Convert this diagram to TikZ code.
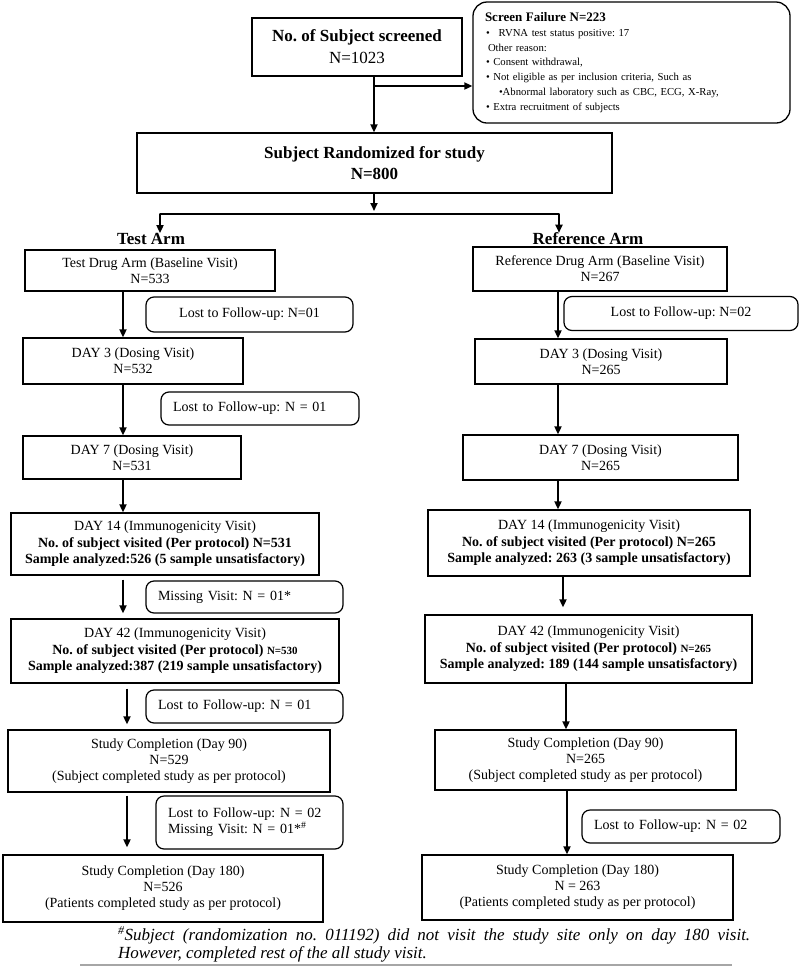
\documentclass[tikz,border=0pt]{standalone}
\usepackage{fontspec}
\setmainfont{Liberation Serif}
\usetikzlibrary{arrows.meta}
\frenchspacing
\newcommand\boxfont{\fontsize{14}{16}\selectfont}
\newcommand\headfont{\fontsize{17}{21}\selectfont\bfseries}
\newcommand\failfont{\fontsize{10.7}{14.8}\selectfont}
\tikzset{
  box/.style={draw, line width=1.3pt, inner sep=0pt, align=center, font=\boxfont},
  lost/.style={draw, line width=1.2pt, rounded corners=8pt, inner xsep=12pt, inner ysep=0pt, font=\boxfont},
  arr/.style={line width=1.8pt, -{Triangle[length=8pt,width=7pt]}},
  conn/.style={line width=1.8pt},
  head/.style={font=\headfont, inner sep=0pt},
}
\begin{document}
\begin{tikzpicture}[x=1pt,y=-1pt]
\fill[white] (0,0) rectangle (800,970);
\useasboundingbox (0,0) rectangle (800,970);

% top
\node[box, minimum width=210pt, minimum height=58pt, font=\fontsize{17}{22}\selectfont] (scr) at (357,47) {\textbf{No. of Subject screened}\\N=1023};
\node[draw, line width=1.3pt, rounded corners=14pt, minimum width=317pt, minimum height=121pt,
      inner xsep=12pt, inner ysep=0pt, text width=293pt, align=left, font=\failfont] (fail) at (631.5,62.5)
 {{\fontsize{13}{15}\selectfont\bfseries Screen Failure N=223}\\
  \hspace{1pt}\textbullet\hspace{9pt}RVNA test status positive: 17\\
  \hspace{3pt}Other reason:\\
  \hspace{1pt}\textbullet\ Consent withdrawal,\\
  \hspace{1pt}\textbullet\ Not eligible as per inclusion criteria, Such as\\
  \hspace{14pt}\textbullet Abnormal laboratory such as CBC, ECG, X-Ray,\\
  \hspace{1pt}\textbullet\ Extra recruitment of subjects};
\node[box, minimum width=475pt, minimum height=60pt, font=\fontsize{17}{21}\selectfont\bfseries] (rand) at (374.5,163) {Subject Randomized for study\\N=800};

\coordinate (br) at (374,86);
\draw[arr] (scr.south -| br) -- (rand.north -| br);
\draw[arr] (br) -- (fail.west |- br);

\node[head] (tlab) at (151,239) {Test Arm};
\node[head] (rlab) at (588,239) {Reference Arm};

\coordinate (sp) at (374,214);
\coordinate (spL) at (160,214);
\coordinate (spR) at (559,214);
\draw[arr] (rand.south -| sp) -- ([yshift=3pt]sp);
\draw[conn, line cap=round] (spL) -- (spR);
\draw[arr] (spL) -- (spL |- tlab.north);
\draw[arr] (spR) -- (spR |- rlab.north);

% left column
\node[box, minimum width=250pt, minimum height=41pt] (t1) at (150,270.5) {Test Drug Arm (Baseline Visit)\\N=533};
\node[lost, minimum width=207pt, minimum height=35pt, align=center] (tl1) at (249.5,314.5) {Lost to Follow-up: N=01};
\node[box, minimum width=220pt, minimum height=46pt] (t2) at (133,361) {DAY 3 (Dosing Visit)\\N=532};
\node[lost, text width=174pt, minimum height=33pt, align=left] (tl2) at (260,408.5) {Lost to Follow-up: N = 01};
\node[box, minimum width=218pt, minimum height=43pt] (t3) at (132,457.5) {DAY 7 (Dosing Visit)\\N=531};
\node[box, minimum width=308pt, minimum height=62pt, font=\fontsize{14}{16.5}\selectfont] (t4) at (165,544) {DAY 14 (Immunogenicity Visit)\\\textbf{No. of subject visited (Per protocol) N=531}\\\textbf{Sample analyzed:526 (5 sample unsatisfactory)}};
\node[lost, text width=173pt, minimum height=32pt, align=left] (tl3) at (244.5,597) {Missing Visit: N = 01*};
\node[box, minimum width=328pt, minimum height=64pt, font=\fontsize{14}{16.5}\selectfont] (t5) at (175,651) {DAY 42 (Immunogenicity Visit)\\\textbf{No. of subject visited (Per protocol) {\fontsize{11}{13}\selectfont N=530}}\\\textbf{Sample analyzed:387 (219 sample unsatisfactory)}};
\node[lost, text width=173pt, minimum height=33pt, align=left] (tl4) at (244.5,706.5) {Lost to Follow-up: N = 01};
\node[box, minimum width=322pt, minimum height=62pt] (t6) at (169,761) {Study Completion (Day 90)\\N=529\\(Subject completed study as per protocol)};
\node[lost, text width=163pt, minimum height=53pt, align=left] (tl5) at (249.5,822.5) {Lost to Follow-up: N = 02\\Missing Visit: N = 01*\textsuperscript{\#}};
\node[box, minimum width=320pt, minimum height=67pt] (t7) at (163,888.5) {Study Completion (Day 180)\\N=526\\(Patients completed study as per protocol)};

\coordinate (a1) at (123,0);
\coordinate (a2) at (127,0);
\draw[arr] (t1.south -| a1) -- (t2.north -| a1);
\draw[arr] (t2.south -| a1) -- (t3.north -| a1);
\draw[arr] (t3.south -| a1) -- (t4.north -| a1);
\draw[arr, shorten <=4pt, shorten >=5pt] (t4.south -| a1) -- (t5.north -| a1);
\draw[arr, shorten <=5pt, shorten >=5pt] (t5.south -| a2) -- (t6.north -| a2);
\draw[arr, shorten <=3pt, shorten >=7pt] (t6.south -| a2) -- (t7.north -| a2);

% right column
\node[box, minimum width=254pt, minimum height=44pt] (r1) at (600,269) {Reference Drug Arm (Baseline Visit)\\N=267};
\node[lost, minimum width=234pt, minimum height=34pt, align=center] (rl1) at (681,313.5) {Lost to Follow-up: N=02};
\node[box, minimum width=252pt, minimum height=45pt] (r2) at (601,361.5) {DAY 3 (Dosing Visit)\\N=265};
\node[box, minimum width=275pt, minimum height=45pt] (r3) at (600.5,457.5) {DAY 7 (Dosing Visit)\\N=265};
\node[box, minimum width=322pt, minimum height=66pt, font=\fontsize{14}{16.5}\selectfont] (r4) at (589,543) {DAY 14 (Immunogenicity Visit)\\\textbf{No. of subject visited (Per protocol) N=265}\\\textbf{Sample analyzed: 263 (3 sample unsatisfactory)}};
\node[box, minimum width=327pt, minimum height=68pt, font=\fontsize{14}{16.5}\selectfont] (r5) at (588.5,649) {DAY 42 (Immunogenicity Visit)\\\textbf{No. of subject visited (Per protocol) {\fontsize{11}{13}\selectfont N=265}}\\\textbf{Sample analyzed: 189 (144 sample unsatisfactory)}};
\node[box, minimum width=301pt, minimum height=60pt] (r6) at (585.5,760) {Study Completion (Day 90)\\N=265\\(Subject completed study as per protocol)};
\node[lost, text width=174pt, minimum height=33pt, align=left] (rl2) at (681,826.5) {Lost to Follow-up: N = 02};
\node[box, minimum width=311pt, minimum height=65pt] (r7) at (577.5,887.5) {Study Completion (Day 180)\\N = 263\\(Patients completed study as per protocol)};

\coordinate (b1) at (558,0);
\coordinate (b2) at (563,0);
\coordinate (b3) at (566,0);
\coordinate (b4) at (567,0);
\draw[arr] (r1.south -| b1) -- (r2.north -| b1);
\draw[arr] (r2.south -| b1) -- (r3.north -| b1);
\draw[arr] (r3.south -| b1) -- (r4.north -| b1);
\draw[arr, shorten >=7pt] (r4.south -| b2) -- (r5.north -| b2);
\draw[arr] (r5.south -| b3) -- (r6.north -| b3);
\draw[arr] (r6.south -| b4) -- (r7.north -| b4);

% footnote
\node[anchor=north west, inner sep=0pt, text width=632pt, align=justify,
      font=\fontsize{17}{18}\selectfont\itshape] (fn) at (118,926)
 {\textsuperscript{\#}Subject (randomization no. 011192) did not visit the study site only on day 180 visit.\linebreak However, completed rest of the all study visit.};
\coordinate (g1) at (80,965);
\coordinate (g2) at (732,965);
\draw[gray!70, line width=2pt] (g1) -- (g2);
\end{tikzpicture}
\end{document}
